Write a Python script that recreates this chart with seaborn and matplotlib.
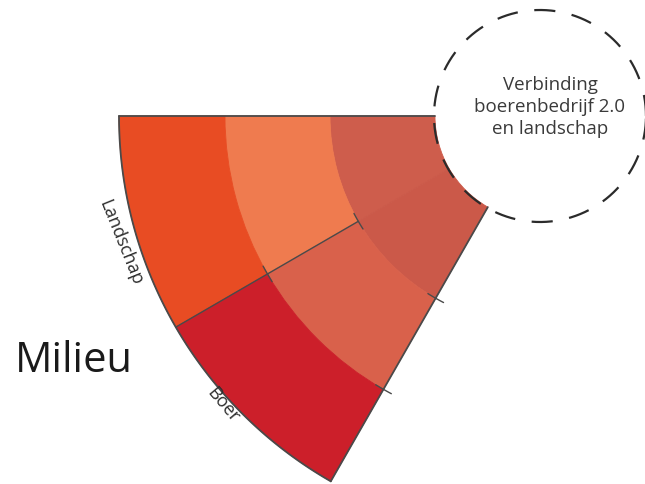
import numpy as np
import matplotlib.pyplot as plt
import seaborn as sns

# fan diagram data: two sectors, three rings (inner -> outer)
sectors = ["Landschap", "Boer"]
ring_edges = [105, 210, 315, 421]
fan_start = 180.0
fan_end = 240.2
landschap_colors = ["#CE5D4C", "#EF7B4F", "#E84C23"]
boer_colors = ["#CB5949", "#D9614B", "#CC1F2A"]
title = "Milieu"
center_label = "Verbinding\nboerenbedrijf 2.0\nen landschap"

sns.set_theme(style="white")
plt.rcParams['font.family'] = ['Open Sans', 'DejaVu Sans']

W, H = 645, 485
fig = plt.figure(figsize=(6.45, 4.85), dpi=100)
cx, cy = 540, 117
rmax = 425
ax = fig.add_axes([(cx - rmax) / W, (H - cy - rmax) / H, 2 * rmax / W, 2 * rmax / H],
                  projection='polar')
ax.set_ylim(0, rmax)
ax.set_axis_off()

rad = np.deg2rad
span = (fan_end - fan_start) / len(sectors)
colors = {"Landschap": landschap_colors, "Boer": boer_colors}

# the rings
for i, name in enumerate(sectors):
    theta = rad(fan_start + span * (i + 0.5))
    for j in range(len(ring_edges) - 1):
        c = colors[name][j]
        ax.bar(theta, ring_edges[j + 1] - ring_edges[j], width=rad(span),
               bottom=ring_edges[j], color=c, edgecolor=c, linewidth=0.6)

# outlines
edge_col = "#4a4a4a"
arc = rad(np.linspace(fan_start, fan_end, 100))
ax.plot(arc, np.full_like(arc, ring_edges[-1]), color=edge_col, lw=1.3)
ax.plot([rad(fan_start)] * 2, [ring_edges[0], ring_edges[-1]], color=edge_col, lw=1.3)
ax.plot([rad(fan_end)] * 2, [ring_edges[0], ring_edges[-1]], color=edge_col, lw=1.3)
mid = fan_start + span
ax.plot([rad(mid)] * 2, [ring_edges[1], ring_edges[-1]], color=edge_col, lw=1.0)

# small ticks where ring boundaries meet the lines
for r in ring_edges[1:3]:
    for th in [mid, fan_end]:
        d = np.rad2deg(9 / r)
        t = rad(np.linspace(th - d, th + d, 10))
        ax.plot(t, np.full_like(t, r), color=edge_col, lw=1.0)

# dashed circle
full = np.linspace(0, 2 * np.pi, 400)
ax.plot(full, np.full_like(full, 106), color="#2b2b2b", lw=1.6, dashes=(9.5, 7.5))

# labels
fig.text(15 / W, (H - 372) / H, title, fontsize=30, ha='left', va='baseline', color='#1a1a1a')
fig.text(121 / W, (H - 243) / H, sectors[0], rotation=-68, ha='center', va='center',
         fontsize=13, color='#2e2e2e', rotation_mode='anchor')
fig.text(223 / W, (H - 405) / H, sectors[1], rotation=-50, ha='center', va='center',
         fontsize=13, color='#2e2e2e', rotation_mode='anchor')
fig.text(550 / W, (H - 107) / H, center_label, ha='center', va='center',
         multialignment='center', fontsize=13.5, linespacing=1.25, color='#3a3a3a')

fig.savefig("out.png", dpi=100)
